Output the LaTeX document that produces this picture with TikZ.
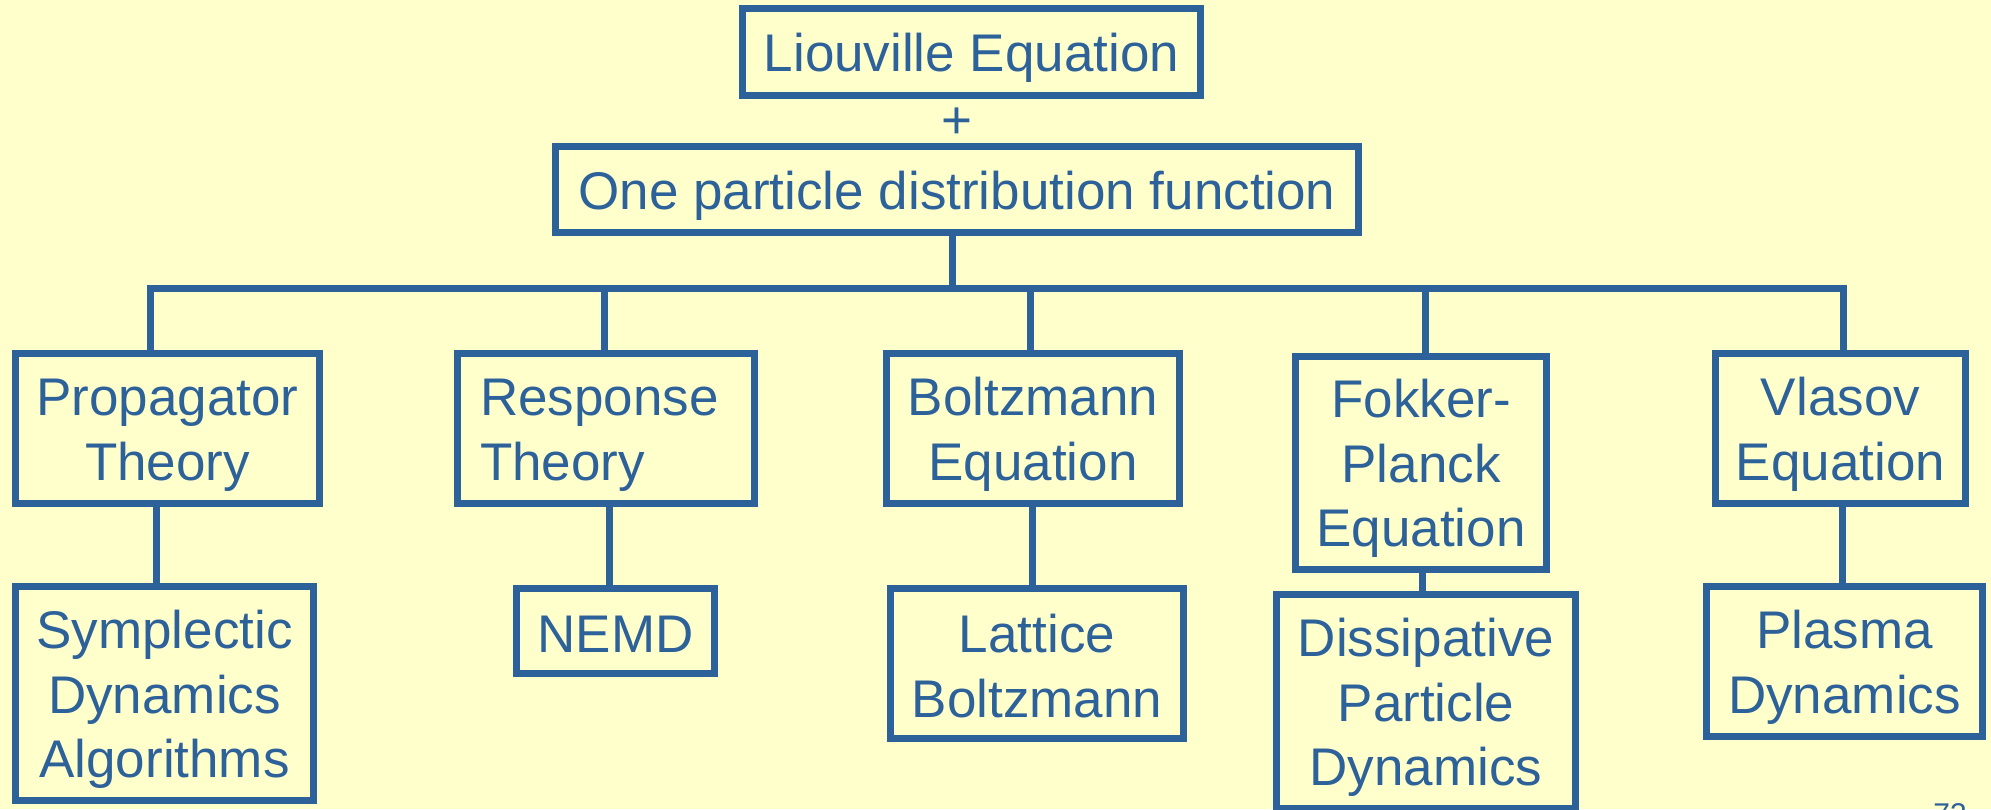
\documentclass[tikz,border=0pt]{standalone}
\usepackage{fontspec}
\setmainfont{Liberation Sans}
\definecolor{bg}{HTML}{FFFFCC}
\definecolor{bl}{HTML}{2D6199}
\newcommand\mystrut{\rule[-7pt]{0pt}{57.2pt}}
\begin{document}
\begin{tikzpicture}[x=1pt,y=-1pt,
  box/.style={draw=bl, line width=7pt, inner sep=0pt, text=bl,
    font=\fontsize{53}{64.6}\selectfont, align=center},
  conn/.style={draw=bl, line width=7pt, line join=miter}]
\useasboundingbox (0,0) rectangle (1991,809);
\clip (0,0) rectangle (1991,809);
\fill[bg] (0,0) rectangle (1991,809);

\node[box, minimum width=458pt, minimum height=87pt] (L) at (971.5,52) {\mystrut Liouville Equation};
\node[text=bl, inner sep=0pt, anchor=base, font=\fontsize{53}{64.6}\selectfont] (plus) at (957.3,138.5) {+};
\node[box, minimum width=803.6pt, minimum height=86.3pt] (O) at (957,189.4) {\mystrut One particle distribution function};

\node[box, minimum width=304pt, minimum height=150pt] (P1) at (167.5,428.5) {\mystrut Propagator\\\mystrut Theory};
\node[box, minimum width=297pt, minimum height=150pt, text width=252pt, align=left] (P2) at (606,428.5) {\mystrut Response\\\mystrut Theory};
\node[box, minimum width=293pt, minimum height=150pt] (P3) at (1033,428.5) {\mystrut Boltzmann\\\mystrut Equation};
\node[box, minimum width=251pt, minimum height=213pt] (P4) at (1421,462.5) {\mystrut Fokker-\\\mystrut Planck\\\mystrut Equation};
\node[box, minimum width=250pt, minimum height=150pt] (P5) at (1840.5,428.5) {\mystrut Vlasov\\\mystrut Equation};

\node[box, minimum width=298pt, minimum height=214pt] (C1) at (164.5,693.5) {\mystrut Symplectic\\\mystrut Dynamics\\\mystrut Algorithms};
\node[box, minimum width=198pt, minimum height=85pt] (C2) at (615.5,631) {\mystrut NEMD};
\node[box, minimum width=293pt, minimum height=150pt] (C3) at (1037,663.5) {\mystrut Lattice\\\mystrut Boltzmann};
\node[box, minimum width=299pt, minimum height=214pt] (C4) at (1426,701.5) {\mystrut Dissipative\\\mystrut Particle\\\mystrut Dynamics};
\node[box, minimum width=276pt, minimum height=150pt] (C5) at (1844.5,661.5) {\mystrut Plasma\\\mystrut Dynamics};

\coordinate (bar) at (952,288.5);
\draw[conn] ([xshift=-17.5pt]P1.north) |- (bar) -| ([xshift=2.5pt]P5.north);
\draw[conn] ([xshift=-5pt]O.south) -- (bar);
\draw[conn] ([xshift=-2pt]P2.north) -- ([xshift=-2pt]P2.north |- bar);
\draw[conn] ([xshift=-3pt]P3.north) -- ([xshift=-3pt]P3.north |- bar);
\draw[conn] ([xshift=4pt]P4.north) -- ([xshift=4pt]P4.north |- bar);

\draw[conn] ([xshift=-11.5pt]P1.south) -- ([xshift=-11.5pt]P1.south |- C1.north);
\draw[conn] ([xshift=3pt]P2.south) -- ([xshift=3pt]P2.south |- C2.north);
\draw[conn] ([xshift=-1pt]P3.south) -- ([xshift=-1pt]P3.south |- C3.north);
\draw[conn] ([xshift=1pt]P4.south) -- ([xshift=1pt]P4.south |- C4.north);
\draw[conn] ([xshift=1.5pt]P5.south) -- ([xshift=1.5pt]P5.south |- C5.north);

\node[text=bl, inner sep=0pt, anchor=base, font=\fontsize{30}{36}\selectfont] (pg) at (1950,824.5) {73};
\end{tikzpicture}
\end{document}
